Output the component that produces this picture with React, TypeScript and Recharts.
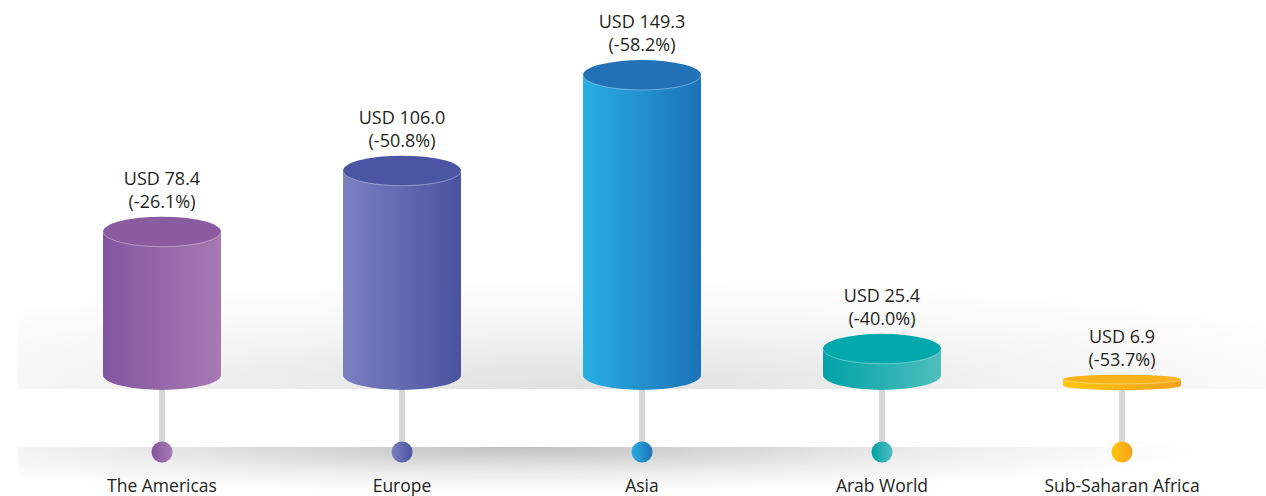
import { BarChart, Bar, XAxis, YAxis } from "recharts";

const regions = ["The Americas", "Europe", "Asia", "Arab World", "Sub-Saharan Africa"];
const valuesUsd = [78.4, 106.0, 149.3, 25.4, 6.9];
const changePct = [-26.1, -50.8, -58.2, -40.0, -53.7];

// [left side, right side, top cap]
const palette = [
  ["#83559f", "#a77ab4", "#8a5b9f"],
  ["#7b80c0", "#4953a1", "#4a56a3"],
  ["#2aaee4", "#1b72b7", "#2270b5"],
  ["#00a2a7", "#4fbdbc", "#00a8ac"],
  ["#ffc60b", "#f4a11c", "#f9b31a"],
];

const data = regions.map((region, i) => ({
  region,
  value: valuesUsd[i],
  change: changePct[i],
}));

const maxValue = Math.max(...valuesUsd);
const fontFamily = "'Open Sans', sans-serif";

function Cylinder(props: any) {
  const { x, y, width, height, index, payload } = props;
  const [c1, c2, cTop] = palette[index];
  const rx = width / 2;
  const cx = x + rx;
  const ry = Math.min(15, height * 0.3);
  const bottom = y + height;
  const sideId = `side-${index}`;
  const body = `M ${x} ${y + ry} L ${x} ${bottom - ry} A ${rx} ${ry} 0 0 0 ${x + width} ${bottom - ry} L ${x + width} ${y + ry} Z`;
  return (
    <g>
      <defs>
        <linearGradient id={sideId} x1="0" y1="0" x2="1" y2="0">
          <stop offset="0%" stopColor={c1} />
          <stop offset="100%" stopColor={c2} />
        </linearGradient>
      </defs>
      {/* stem + dot */}
      <rect x={cx - 3} y={bottom - 2} width={6} height={62} fill="#d6d6d6" />
      <circle cx={cx} cy={bottom + 62} r={10.5} fill={`url(#${sideId})`} />
      {/* cylinder */}
      <path d={body} fill={`url(#${sideId})`} />
      <ellipse cx={cx} cy={y + ry} rx={rx} ry={ry} fill={cTop} />
      <path
        d={`M ${x} ${y + ry} A ${rx} ${ry} 0 0 0 ${x + width} ${y + ry}`}
        fill="none"
        stroke="#ffffff"
        strokeOpacity={0.35}
        strokeWidth={1}
      />
      <text x={cx} y={y - 32} textAnchor="middle" fontFamily={fontFamily} fontSize={18} fill="#231f20">
        {`USD ${payload.value.toFixed(1)}`}
      </text>
      <text x={cx} y={y - 9} textAnchor="middle" fontFamily={fontFamily} fontSize={18} fill="#231f20">
        {`(${payload.change.toFixed(1)}%)`}
      </text>
    </g>
  );
}

function RegionTick(props: any) {
  const { x, y, payload } = props;
  return (
    <text x={x} y={y + 94} textAnchor="middle" fontFamily={fontFamily} fontSize={17.5} fill="#231f20">
      {payload.value}
    </text>
  );
}

export default function App() {
  return (
    <div style={{ position: "absolute", left: 0, top: 0, width: 1266, height: 496, background: "#fff", overflow: "hidden" }}>
      {/* upper shadow band */}
      <div
        style={{
          position: "absolute",
          left: 18,
          right: 0,
          top: 280,
          height: 109,
          background:
            "radial-gradient(ellipse 70% 100% at 45% 100%, rgba(218,218,218,0.85), rgba(236,236,236,0.5) 60%, rgba(255,255,255,0) 100%)",
        }}
      />
      {/* lower shadow band */}
      <div
        style={{
          position: "absolute",
          left: 18,
          right: 0,
          top: 447,
          height: 45,
          background:
            "radial-gradient(ellipse 55% 100% at 40% 0%, rgba(190,190,190,0.95), rgba(225,225,225,0.6) 60%, rgba(255,255,255,0) 100%)",
        }}
      />
      <div style={{ position: "absolute", left: 0, top: 0 }}>
        <BarChart
          width={1266}
          height={496}
          data={data}
          margin={{ top: 60, right: 24, left: 42, bottom: 0 }}
          barCategoryGap={0}
        >
          <XAxis
            dataKey="region"
            height={106}
            axisLine={false}
            tickLine={false}
            tick={<RegionTick />}
            interval={0}
          />
          <YAxis hide domain={[0, maxValue]} />
          <Bar dataKey="value" barSize={118} shape={<Cylinder />} isAnimationActive={false} />
        </BarChart>
      </div>
    </div>
  );
}
